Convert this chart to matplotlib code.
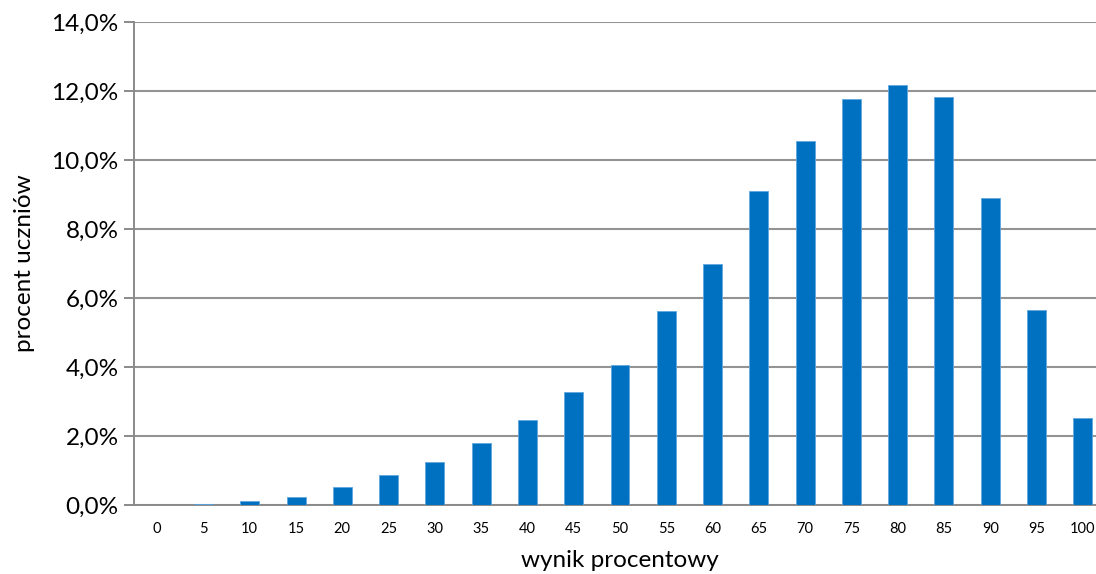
import numpy as np
import matplotlib.pyplot as plt
from matplotlib.ticker import FuncFormatter

plt.rcParams['font.family'] = ['Lato', 'DejaVu Sans']

# wynik procentowy (kategorie) i procent uczniów
wyniki = [str(v) for v in range(0, 101, 5)]
procent = [0.0, 0.04, 0.12, 0.23, 0.52, 0.88, 1.26, 1.80, 2.47, 3.28, 4.07,
           5.63, 6.98, 9.10, 10.54, 11.76, 12.17, 11.82, 8.90, 5.66, 2.52]

fig = plt.figure(figsize=(10.96, 5.74), dpi=100)
ax = fig.add_axes([0.1223, 0.1197, 0.8868, 0.842])

x = np.arange(len(wyniki))
ax.bar(x, procent, width=0.41, color='#0070C0', edgecolor='#5fa8e0',
       linewidth=0.6, zorder=3)

ax.set_xlim(-0.5, len(wyniki) - 0.5)
ax.set_ylim(0, 14)
ax.set_yticks(np.arange(0, 15, 2))
ax.yaxis.set_major_formatter(FuncFormatter(lambda v, p: f"{v:.1f}%".replace('.', ',')))
ax.set_xticks(x)
ax.set_xticklabels(wyniki, fontsize=10.5)

ax.grid(axis='y', color='#939393', linewidth=1.5, zorder=0)
for s in ['top', 'right']:
    ax.spines[s].set_visible(False)
ax.spines['left'].set_color('#8a8a8a')
ax.spines['bottom'].set_color('#8a8a8a')
ax.spines['left'].set_linewidth(1.4)
ax.spines['bottom'].set_linewidth(1.4)
ax.tick_params(axis='y', length=7, width=1.4, color='#8a8a8a', labelsize=17.5, pad=4)
ax.tick_params(axis='x', length=0, pad=12)

ax.set_xlabel('wynik procentowy', fontsize=17.5, labelpad=10)
ax.set_ylabel('procent uczniów', fontsize=17.5, labelpad=12)

fig.savefig('out.png', dpi=100)
